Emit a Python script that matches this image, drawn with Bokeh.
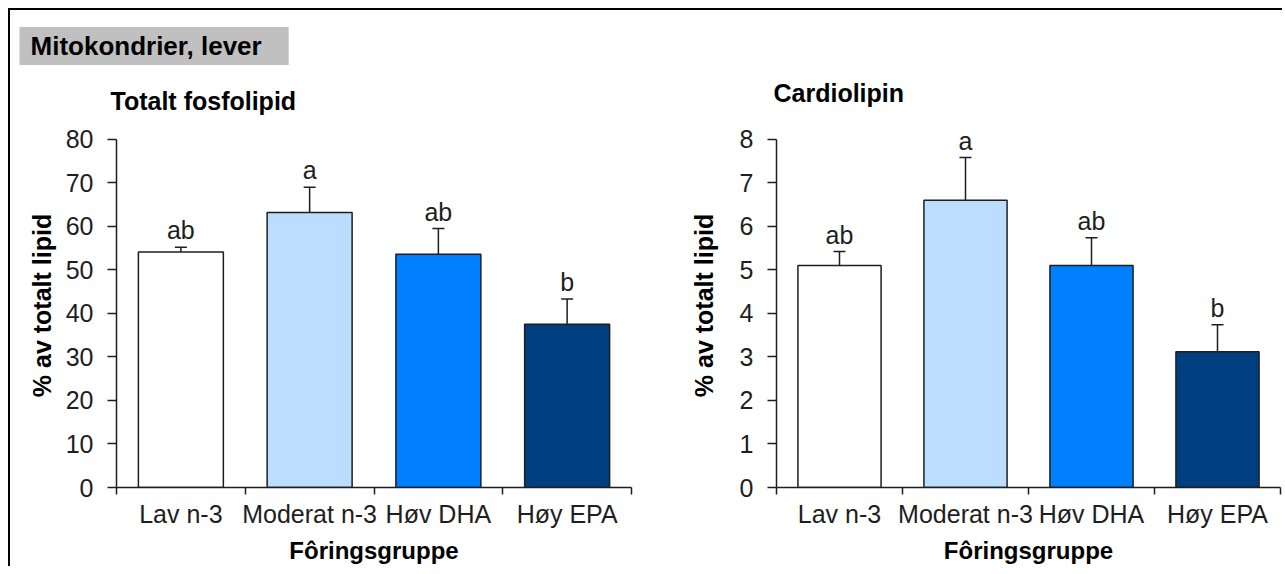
from bokeh.plotting import figure
from bokeh.models import (Range1d, LinearAxis, FixedTicker, Title,
                          ColumnDataSource, Whisker, TeeHead, LabelSet)
from bokeh.layouts import row
from bokeh.embed import file_html
from bokeh.resources import INLINE
from bokeh.core.properties import value

# ---- data ----
groups = ["Lav n-3", "Moderat n-3", "Høv DHA", "Høy EPA"]
colors = ["#ffffff", "#bbddff", "#0080ff", "#003f7f"]
letters = ["ab", "a", "ab", "b"]

fosfo_mean = [54.1, 63.2, 53.6, 37.5]
fosfo_upper = [55.2, 69.0, 59.5, 43.3]
fosfo_ticks = [0, 10, 20, 30, 40, 50, 60, 70, 80]

cardio_mean = [5.1, 6.6, 5.1, 3.12]
cardio_upper = [5.42, 7.58, 5.74, 3.74]
cardio_ticks = [0, 1, 2, 3, 4, 5, 6, 7, 8]

FONT = "Liberation Sans"
INK = "#1e1e1e"
H = 556
AXIS_PX = 352      # pixel height of the 0..max axis
HEADROOM = 16      # extra room above the axis top for the letters
FRAME_BOTTOM = 481

n = len(groups)
centers = [i + 0.5 for i in range(n)]
edges = list(range(n + 1))


def panel_title(text, standoff, offset):
    return Title(text=text, text_font=FONT, text_font_size="25px",
                 text_font_style="bold", text_color="#000000", align="left",
                 offset=offset, standoff=standoff)


def make_panel(title, means, uppers, ticks, width, left, right, standoff, toff,
               ylab_standoff, heading=None):
    top = ticks[-1]
    view_top = top * (AXIS_PX + HEADROOM) / AXIS_PX
    p = figure(x_range=Range1d(0, n), y_range=Range1d(0, view_top),
               width=width, height=H, output_backend="svg", toolbar_location=None,
               x_axis_type=None, y_axis_type=None,
               min_border_left=left, min_border_right=right,
               min_border_top=FRAME_BOTTOM - AXIS_PX - HEADROOM,
               min_border_bottom=H - FRAME_BOTTOM,
               outline_line_color=None, background_fill_color="white",
               border_fill_color="white")
    if heading is None:
        p.title = panel_title(title, standoff, toff)
    else:
        p.title = heading
        p.add_layout(panel_title(title, standoff, toff), "above")

    yax = LinearAxis(ticker=FixedTicker(ticks=ticks), bounds=(0, top),
                     axis_line_color=INK, axis_line_width=1.5,
                     major_tick_out=9, major_tick_in=0,
                     minor_tick_out=0, minor_tick_in=0,
                     major_tick_line_color=INK, major_tick_line_width=1.5,
                     major_label_text_font=FONT, major_label_text_font_size="25px",
                     major_label_text_color=INK, major_label_standoff=14,
                     axis_label="% av totalt lipid", axis_label_text_font=FONT,
                     axis_label_text_font_style="bold", axis_label_text_font_size="25px",
                     axis_label_text_color="#000000", axis_label_standoff=ylab_standoff)
    p.add_layout(yax, "left")

    edge_ax = LinearAxis(ticker=FixedTicker(ticks=edges),
                         axis_line_color=INK, axis_line_width=1.5,
                         major_tick_out=7, major_tick_in=0,
                         minor_tick_out=0, minor_tick_in=0,
                         major_tick_line_color=INK, major_tick_line_width=1.5,
                         major_label_text_font_size="0px", major_label_standoff=0,
                         major_label_overrides={e: "" for e in edges})
    p.add_layout(edge_ax, "below")

    cat_ax = LinearAxis(ticker=FixedTicker(ticks=centers),
                        major_label_overrides={c: g for c, g in zip(centers, groups)},
                        axis_line_color=None, major_tick_line_color=None,
                        minor_tick_line_color=None,
                        major_tick_out=0, major_tick_in=0,
                        minor_tick_out=0, minor_tick_in=0,
                        major_label_standoff=5,
                        major_label_text_font=FONT, major_label_text_font_size="25px",
                        major_label_text_color=INK,
                        axis_label="Fôringsgruppe", axis_label_text_font=FONT,
                        axis_label_text_font_style="bold",
                        axis_label_text_font_size="24px",
                        axis_label_text_color="#000000", axis_label_standoff=6)
    p.add_layout(cat_ax, "below")

    src = ColumnDataSource(dict(x=centers, g=groups, mean=means, up=uppers,
                                col=colors, let=letters))
    p.vbar(x="x", top="mean", width=0.66, source=src, fill_color="col",
           line_color=INK, line_width=1.5)
    w = Whisker(base="x", upper="up", lower="mean", source=src,
                line_color=INK, line_width=1.5, level="annotation",
                upper_head=TeeHead(size=12, line_color=INK, line_width=1.5),
                lower_head=None)
    p.add_layout(w)
    ls = LabelSet(x="x", y="up", text="let", source=src, text_align="center",
                  text_baseline="alphabetic", y_offset=8,
                  text_font=value(FONT), text_font_size=value("25px"),
                  text_color=value(INK))
    p.add_layout(ls)
    return p


heading = Title(text="Mitokondrier, lever", text_font=FONT, text_font_size="26px",
                text_font_style="bold", text_color="#000000", align="left",
                offset=-97, standoff=21,
                background_fill_color="#c0c0c0",
                padding=dict(left=11, right=27, top=4, bottom=4))

p1 = make_panel("Totalt fosfolipid", fosfo_mean, fosfo_upper, fosfo_ticks,
                632, 106, 11, 18, -6, 7, heading=heading)
p2 = make_panel("Cardiolipin", cardio_mean, cardio_upper, cardio_ticks,
                640, 134, 2, 33, -3, 19)

layout = row(p1, p2, styles={"border-top": "2px solid black",
                             "border-left": "2px solid black",
                             "margin-left": "8px", "margin-top": "8px"})

open("out.html", "w").write(file_html(layout, INLINE))
